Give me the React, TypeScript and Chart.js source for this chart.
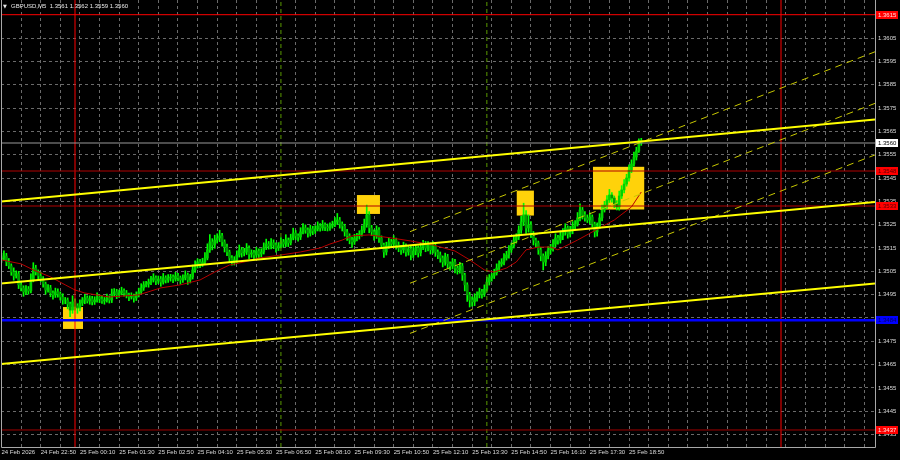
import { useEffect, useRef } from 'react';
import { Chart, registerables } from 'chart.js';
Chart.register(...registerables);

// ---------- data ----------
const symbolTitle = 'GBPUSD,M5';
const lastOHLC = [1.3561, 1.3562, 1.3559, 1.356];
const firstOpen = 1.35101;

const closes = [
  1.35107, 1.35116, 1.3509, 1.35073, 1.35047, 1.3503, 1.35039, 1.34992, 1.34979, 1.34962,
  1.34974, 1.34966, 1.35013, 1.35064, 1.35047, 1.3503, 1.35017, 1.34996, 1.3497, 1.34979,
  1.34957, 1.34949, 1.34962, 1.34953, 1.3494, 1.34927, 1.34927, 1.3491, 1.34884, 1.34919,
  1.34902, 1.34893, 1.34914, 1.34927, 1.34936, 1.34923, 1.34932, 1.34919, 1.34927, 1.3494,
  1.34932, 1.34923, 1.34927, 1.34936, 1.34927, 1.34953, 1.34962, 1.34949, 1.34957, 1.34966,
  1.34957, 1.34949, 1.3494, 1.34944, 1.34936, 1.34949, 1.34962, 1.34979, 1.34992, 1.34996,
  1.35004, 1.35013, 1.35022, 1.35009, 1.35017, 1.35004, 1.35022, 1.35013, 1.35022, 1.35026,
  1.35017, 1.3503, 1.35022, 1.35013, 1.35022, 1.35034, 1.35013, 1.35026, 1.35056, 1.35077,
  1.3509, 1.35082, 1.3509, 1.35107, 1.35142, 1.35176, 1.35163, 1.35184, 1.35193, 1.35202,
  1.35176, 1.35154, 1.35133, 1.35107, 1.3509, 1.35099, 1.3512, 1.35142, 1.35129, 1.35133,
  1.3515, 1.35124, 1.35129, 1.3512, 1.35137, 1.35124, 1.35133, 1.35154, 1.35167, 1.35159,
  1.35172, 1.35163, 1.3515, 1.35159, 1.35176, 1.35167, 1.35184, 1.35172, 1.35193, 1.35214,
  1.35202, 1.35197, 1.35219, 1.35236, 1.35227, 1.35214, 1.35232, 1.35223, 1.35232, 1.35244,
  1.35236, 1.35249, 1.3524, 1.35236, 1.35244, 1.35249, 1.35262, 1.3527, 1.35253, 1.35244,
  1.35219, 1.35202, 1.35184, 1.35176, 1.35193, 1.35202, 1.3521, 1.35227, 1.35253, 1.35292,
  1.35236, 1.35219, 1.35202, 1.35227, 1.35193, 1.35163, 1.35133, 1.35159, 1.35176, 1.35167,
  1.35184, 1.35163, 1.3515, 1.35142, 1.35159, 1.35133, 1.35146, 1.3512, 1.35137, 1.3515,
  1.35129, 1.35154, 1.35167, 1.3515, 1.35163, 1.35142, 1.35159, 1.35133, 1.3512, 1.35107,
  1.3509, 1.35112, 1.35082, 1.35073, 1.3509, 1.35064, 1.35056, 1.35073, 1.35034, 1.34992,
  1.34949, 1.34927, 1.34919, 1.34936, 1.34949, 1.34962, 1.34953, 1.34974, 1.35004, 1.35022,
  1.3503, 1.35043, 1.35064, 1.35082, 1.3509, 1.35107, 1.3512, 1.35142, 1.35159, 1.35184,
  1.35197, 1.35227, 1.35262, 1.35292, 1.35236, 1.35249, 1.3521, 1.35184, 1.35172, 1.35142,
  1.35116, 1.3509, 1.35116, 1.35142, 1.3515, 1.35167, 1.35193, 1.35184, 1.35202, 1.35219,
  1.35236, 1.3521, 1.35227, 1.35244, 1.35253, 1.35279, 1.35313, 1.35292, 1.35279, 1.3527,
  1.35283, 1.35253, 1.35219, 1.35244, 1.35279, 1.35313, 1.35334, 1.35356, 1.35377, 1.35364,
  1.35339, 1.35326, 1.35373, 1.35399, 1.35424, 1.3545, 1.35484, 1.3551, 1.3554, 1.35566,
  1.3561, 1.356,
];

// wick lengths beyond the body, in pips
const wickUp = [
  2.0, 2.2, 1.1, 1.5, 0.9, 1.8, 1.3, 1.1, 1.6, 0.9,
  1.5, 1.1, 2.6, 2.3, 1.2, 0.9, 1.6, 1.1, 0.8, 1.4,
  1.1, 0.9, 1.6, 1.3, 0.9, 1.4, 1.1, 0.9, 0.8, 2.6,
  1.3, 0.9, 1.4, 1.1, 1.6, 0.9, 1.3, 1.1, 1.4, 1.8,
  0.9, 1.3, 1.1, 1.6, 0.9, 2.1, 1.4, 1.1, 1.3, 1.6,
  0.9, 1.1, 0.8, 1.4, 0.9, 1.3, 1.6, 1.8, 1.4, 1.1,
  1.3, 1.6, 1.8, 0.9, 1.3, 1.1, 1.9, 0.9, 1.4, 1.1,
  0.9, 1.6, 1.1, 0.8, 1.3, 1.8, 0.9, 1.1, 2.1, 1.8,
  1.4, 1.1, 1.6, 2.3, 2.6, 3.1, 1.4, 2.1, 1.8, 2.4,
  1.1, 0.9, 1.3, 0.8, 1.1, 1.4, 1.8, 2.1, 1.1, 1.6,
  1.9, 0.9, 1.3, 1.1, 1.6, 0.9, 1.4, 1.8, 2.1, 1.1,
  1.8, 1.3, 0.9, 1.4, 1.9, 1.1, 2.3, 0.9, 1.6, 2.1,
  1.1, 0.9, 1.8, 1.9, 1.3, 0.9, 1.6, 1.1, 1.4, 1.8,
  1.1, 1.9, 0.9, 1.3, 1.4, 1.6, 1.8, 2.8, 1.1, 0.9,
  0.8, 1.1, 0.9, 1.3, 1.6, 1.1, 1.4, 1.8, 2.1, 4.2,
  1.4, 1.1, 0.9, 1.8, 1.1, 0.9, 0.8, 1.6, 1.8, 1.1,
  1.9, 0.9, 1.3, 1.1, 1.6, 0.9, 1.4, 1.1, 1.8, 1.3,
  0.9, 1.8, 1.6, 1.1, 1.4, 0.9, 1.8, 1.1, 0.9, 1.3,
  0.9, 1.6, 1.1, 0.9, 1.4, 1.1, 0.9, 1.6, 1.1, 0.8,
  0.9, 1.1, 1.4, 1.8, 1.3, 1.6, 1.1, 1.8, 2.1, 1.4,
  1.1, 1.6, 1.8, 1.3, 1.4, 1.9, 1.6, 1.8, 1.3, 2.1,
  1.4, 1.8, 2.4, 5.0, 1.8, 4.3, 1.4, 1.1, 0.9, 0.8,
  1.1, 0.9, 1.8, 1.4, 1.6, 1.9, 1.8, 1.1, 2.1, 1.4,
  1.8, 0.9, 1.6, 1.9, 1.4, 2.3, 2.6, 1.1, 1.4, 1.3,
  1.8, 0.9, 0.8, 1.4, 1.8, 2.1, 1.6, 1.9, 2.4, 1.1,
  0.9, 1.4, 2.1, 1.8, 1.9, 1.6, 2.3, 1.8, 2.1, 1.6,
  0.8, 1.0,
];
const wickDn = [
  1.3, 0.9, 1.6, 1.1, 1.4, 1.8, 0.9, 1.6, 1.3, 1.9,
  1.1, 1.4, 0.9, 0.8, 1.3, 1.6, 1.1, 1.4, 1.8, 0.9,
  1.6, 1.8, 1.1, 1.4, 1.3, 1.8, 1.6, 2.1, 2.8, 1.4,
  1.8, 2.3, 1.3, 1.1, 1.6, 0.9, 1.4, 1.3, 1.1, 0.9,
  1.6, 1.1, 1.4, 0.9, 1.3, 1.1, 0.9, 1.6, 1.1, 0.8,
  1.4, 1.3, 1.6, 0.9, 1.8, 1.1, 0.9, 0.8, 1.1, 0.9,
  1.4, 1.1, 0.9, 1.6, 1.1, 1.8, 0.9, 1.3, 1.1, 1.4,
  1.6, 0.9, 1.3, 1.8, 1.1, 0.9, 1.9, 1.3, 0.9, 1.1,
  1.3, 1.6, 1.1, 0.9, 0.8, 1.1, 2.1, 1.4, 1.3, 1.6,
  1.8, 2.1, 1.6, 1.9, 1.4, 1.3, 1.1, 0.9, 1.8, 1.3,
  1.1, 2.1, 1.4, 1.8, 1.1, 1.6, 1.3, 0.9, 1.1, 1.4,
  1.3, 1.6, 1.8, 1.1, 0.9, 1.4, 1.1, 1.6, 0.9, 0.8,
  1.6, 1.8, 1.1, 0.9, 1.4, 1.8, 1.3, 1.6, 1.1, 0.9,
  1.4, 1.1, 1.6, 1.3, 1.1, 0.9, 0.8, 1.1, 1.8, 2.1,
  1.8, 1.9, 1.6, 2.3, 1.1, 1.3, 1.4, 0.9, 1.1, 1.4,
  2.1, 1.6, 1.8, 1.1, 1.9, 1.6, 2.3, 1.3, 1.1, 1.4,
  0.9, 1.8, 1.6, 1.9, 1.3, 1.8, 1.4, 2.1, 1.1, 1.6,
  1.8, 1.3, 1.1, 1.6, 1.3, 1.8, 1.4, 1.9, 1.6, 1.8,
  2.1, 1.4, 1.9, 1.8, 1.3, 2.1, 1.8, 1.4, 2.3, 2.6,
  2.8, 3.0, 1.8, 1.6, 1.4, 1.3, 1.8, 1.1, 0.9, 1.3,
  1.4, 1.1, 0.9, 1.6, 1.1, 1.3, 0.9, 1.4, 1.1, 0.9,
  1.3, 1.1, 1.4, 1.6, 2.3, 1.8, 1.6, 2.1, 1.8, 1.9,
  2.1, 3.4, 1.6, 1.3, 1.8, 1.4, 1.1, 1.8, 1.3, 1.6,
  1.4, 1.8, 1.3, 1.6, 1.1, 0.9, 1.3, 1.8, 1.4, 1.1,
  1.6, 1.4, 2.2, 1.8, 1.1, 1.3, 0.9, 1.4, 1.1, 1.8,
  1.6, 1.3, 1.4, 1.1, 1.3, 0.9, 1.4, 1.1, 0.9, 1.3,
  0.6, 1.0,
];

// moving average (red line)
const maBars = [0, 8, 13, 20, 26, 30, 34, 44, 56, 65, 73, 81, 87, 93, 99, 105, 114, 122, 130, 134,
  139, 143, 150, 159, 167, 176, 185, 191, 197, 201, 206, 210, 214, 219, 224, 227, 235, 244, 250, 257, 261];
const maValues = [1.35099, 1.35082, 1.35056, 1.35026, 1.34992, 1.3497, 1.34957, 1.3494, 1.34949, 1.34979,
  1.34992, 1.35013, 1.35047, 1.35077, 1.3509, 1.35107, 1.3512, 1.35133, 1.3515, 1.35167,
  1.35184, 1.35202, 1.35206, 1.35193, 1.3518, 1.35163, 1.35137, 1.35099, 1.35056, 1.35047,
  1.35064, 1.3509, 1.35142, 1.35154, 1.35154, 1.35142, 1.35184, 1.35236, 1.3527, 1.35326, 1.3539];

// time axis (bar index, 5-minute bars starting 24 Feb 21:30)
const timeLabels = ['24 Feb 2026', '24 Feb 22:50', '25 Feb 00:10', '25 Feb 01:30', '25 Feb 02:50',
  '25 Feb 04:10', '25 Feb 05:30', '25 Feb 06:50', '25 Feb 08:10', '25 Feb 09:30', '25 Feb 10:50',
  '25 Feb 12:10', '25 Feb 13:30', '25 Feb 14:50', '25 Feb 16:10', '25 Feb 17:30', '25 Feb 18:50'];
const timeLabelStep = 16;
const timeGridStep = 8;
const timeGridLast = 352;

const yTicks = [1.3435, 1.3445, 1.3455, 1.3465, 1.3475, 1.3485, 1.3495, 1.3505, 1.3515, 1.3525,
  1.3535, 1.3545, 1.3555, 1.3565, 1.3575, 1.3585, 1.3595, 1.3605];

const xMin = -0.19;
const xMax = 356.34;
const yMin = 1.34297;
const yMax = 1.36213;

// horizontal levels
const hLevels = [1.3615, 1.3548, 1.3533, 1.3484, 1.3437, 1.356];
const hColors = ['#ff0000', '#b00000', '#b00000', '#0000ff', '#a00000', '#9a9a9a'];
const hWidths = [1, 1, 1, 2.5, 1, 1];

// vertical lines (bar index)
const vRedBars = [30, 318];
const vGreenBars = [114, 198];

// trend channel (solid)
const trendX = [xMin, xMax];
const trendUpper = [1.35349, 1.35701];
const trendMiddle = [1.34998, 1.35347];
const trendLower = [1.34653, 1.34998];
// dashed channel
const dashX = [166.66, xMax];
const dashUpper = [1.3522, 1.35991];
const dashMiddle = [1.34999, 1.3577];
const dashLower = [1.34784, 1.35549];

// yellow zones
const boxX0 = [25.1, 145.0, 210.2, 241.3];
const boxX1 = [33.26, 154.4, 217.2, 262.2];
const boxHigh = [1.34897, 1.35377, 1.35396, 1.35498];
const boxLow = [1.34803, 1.35296, 1.35289, 1.35315];

// right axis price tags
const tagPrices = [1.3615, 1.356, 1.3548, 1.3533, 1.3484, 1.3437];
const tagBg = ['#ff0000', '#ffffff', '#ff0000', '#ff0000', '#0000ff', '#ff0000'];
const tagFg = ['#ffe0e0', '#000000', '#5a0000', '#5a0000', '#000060', '#ffe0e0'];

const FONT = 'Liberation Sans';

export default function App() {
  const ref = useRef<HTMLCanvasElement>(null);

  useEffect(() => {
    document.body.style.margin = '0';
    document.body.style.background = '#000';
    const canvas = ref.current!;

    const opens = closes.map((c, i) => (i === 0 ? firstOpen : closes[i - 1]));
    const highs = closes.map((c, i) => Math.max(opens[i], c) + wickUp[i] / 10000);
    const lows = closes.map((c, i) => Math.min(opens[i], c) - wickDn[i] / 10000);

    const wickData = closes.map((c, i) => ({ x: i, y: [lows[i], highs[i]] }));
    const bodyData = closes.map((c, i) => ({ x: i, y: [opens[i], c] }));
    const bodyColors = closes.map((c, i) => (c >= opens[i] ? '#00d200' : '#009c00'));

    const lineDs = (data: { x: number; y: number }[], color: string, width: number, order: number, dash: number[] = []) => ({
      type: 'line' as const,
      data,
      borderColor: color,
      borderWidth: width,
      borderDash: dash,
      pointRadius: 0,
      tension: 0,
      fill: false,
      order,
    });

    const datasets: any[] = [];
    datasets.push({
      type: 'bar', data: wickData, backgroundColor: '#00ff00', barThickness: 1, grouped: false, order: 20,
    });
    datasets.push({
      type: 'bar', data: bodyData, backgroundColor: bodyColors, barThickness: 2, grouped: false, order: 19,
    });
    datasets.push(lineDs(maBars.map((b, i) => ({ x: b, y: maValues[i] })), '#b80000', 1, 15));
    hLevels.forEach((lv, i) => {
      datasets.push(lineDs([{ x: xMin, y: lv }, { x: xMax, y: lv }], hColors[i], hWidths[i], 10));
    });
    vRedBars.forEach((b) => datasets.push(lineDs([{ x: b, y: yMin }, { x: b, y: yMax }], '#ff0000', 1, 11)));
    vGreenBars.forEach((b) => datasets.push(lineDs([{ x: b, y: yMin }, { x: b, y: yMax }], '#5a9a00', 1, 11, [4, 3])));
    [dashUpper, dashMiddle, dashLower].forEach((d) => {
      datasets.push(lineDs([{ x: dashX[0], y: d[0] }, { x: dashX[1], y: d[1] }], '#c8c800', 1, 5, [7, 5]));
    });
    [trendUpper, trendMiddle, trendLower].forEach((d) => {
      datasets.push(lineDs([{ x: trendX[0], y: d[0] }, { x: trendX[1], y: d[1] }], '#ffff00', 2, 4));
    });

    const mtPlugin = {
      id: 'mt',
      beforeDraw(chart: any) {
        const ctx = chart.ctx;
        ctx.save();
        ctx.fillStyle = '#000000';
        ctx.fillRect(0, 0, chart.width, chart.height);
        ctx.restore();
      },
      beforeDatasetsDraw(chart: any) {
        const { ctx, chartArea: a } = chart;
        const xs = chart.scales.x;
        const ys = chart.scales.y;
        ctx.save();
        ctx.beginPath();
        ctx.rect(a.left, a.top, a.right - a.left, a.bottom - a.top);
        ctx.clip();
        ctx.fillStyle = '#ffd20a';
        boxX0.forEach((x0, i) => {
          const px0 = xs.getPixelForValue(x0);
          const px1 = xs.getPixelForValue(boxX1[i]);
          const py0 = ys.getPixelForValue(boxHigh[i]);
          const py1 = ys.getPixelForValue(boxLow[i]);
          ctx.fillRect(px0, py0, px1 - px0, py1 - py0);
        });
        ctx.restore();
      },
      afterDraw(chart: any) {
        const { ctx, chartArea: a } = chart;
        const ys = chart.scales.y;
        ctx.save();
        // frame
        ctx.strokeStyle = '#a8a8a8';
        ctx.lineWidth = 1;
        ctx.beginPath();
        ctx.moveTo(Math.round(a.left) + 0.5, 0);
        ctx.lineTo(Math.round(a.left) + 0.5, Math.round(a.bottom) + 0.5);
        ctx.lineTo(Math.round(a.right) + 0.5, Math.round(a.bottom) + 0.5);
        ctx.lineTo(Math.round(a.right) + 0.5, 0);
        ctx.stroke();
        // price tags
        ctx.font = `6px "${FONT}"`;
        ctx.textBaseline = 'middle';
        ctx.textAlign = 'left';
        tagPrices.forEach((p, i) => {
          const y = Math.round(ys.getPixelForValue(p));
          ctx.fillStyle = tagBg[i];
          ctx.fillRect(Math.round(a.right) + 1, y - 4, 22, 8);
          ctx.fillStyle = tagFg[i];
          ctx.fillText(p.toFixed(4), Math.round(a.right) + 3, y + 0.5);
        });
        // title
        ctx.fillStyle = '#e8e8e8';
        ctx.font = `5px "DejaVu Sans"`;
        ctx.fillText('▼', 3, 6.5);
        ctx.font = `6px "${FONT}"`;
        ctx.fillText(`${symbolTitle}  ${lastOHLC.map((v) => v.toFixed(4)).join(' ')}`, 11, 6.5);
        ctx.restore();
      },
    };

    const gridColor = '#6a6a6a';
    const chart = new Chart(canvas, {
      type: 'bar',
      data: { datasets },
      options: {
        animation: false,
        responsive: false,
        devicePixelRatio: 1,
        events: [],
        layout: { padding: { left: 1, right: 0, top: 0, bottom: 0 } },
        plugins: { legend: { display: false }, tooltip: { enabled: false } },
        scales: {
          x: {
            type: 'linear',
            min: xMin,
            max: xMax,
            offset: false,
            grid: { color: gridColor, lineWidth: 1, drawTicks: false, offset: false },
            border: { display: false, dash: [3, 3] },
            afterBuildTicks: (s: any) => {
              const t = [];
              for (let v = 0; v <= timeGridLast; v += timeGridStep) t.push({ value: v });
              s.ticks = t;
            },
            afterFit: (s: any) => {
              s.height = 13;
              s.paddingLeft = 0;
              s.paddingRight = 0;
            },
            ticks: {
              autoSkip: false,
              maxRotation: 0,
              minRotation: 0,
              align: 'start',
              padding: 2,
              color: '#dcdcdc',
              font: { family: FONT, size: 6 },
              callback: (v: any) => {
                const k = Number(v) / timeLabelStep;
                return Number.isInteger(k) && k < timeLabels.length ? timeLabels[k] : '';
              },
            },
          },
          y: {
            type: 'linear',
            position: 'right',
            min: yMin,
            max: yMax,
            grid: { color: gridColor, lineWidth: 1, drawTicks: false },
            border: { display: false, dash: [3, 3] },
            afterBuildTicks: (s: any) => {
              s.ticks = yTicks.map((v) => ({ value: v }));
            },
            afterFit: (s: any) => {
              s.width = 25;
              s.paddingTop = 0;
              s.paddingBottom = 0;
            },
            ticks: {
              padding: 3,
              color: '#dcdcdc',
              font: { family: FONT, size: 6 },
              callback: (v: any) => Number(v).toFixed(4),
            },
          },
        },
      } as any,
      plugins: [mtPlugin],
    });
    return () => chart.destroy();
  }, []);

  return (
    <div style={{ width: 900, height: 460, position: 'relative', background: '#000' }}>
      <canvas ref={ref} width={900} height={460} style={{ display: 'block', width: 900, height: 460 }} />
    </div>
  );
}
